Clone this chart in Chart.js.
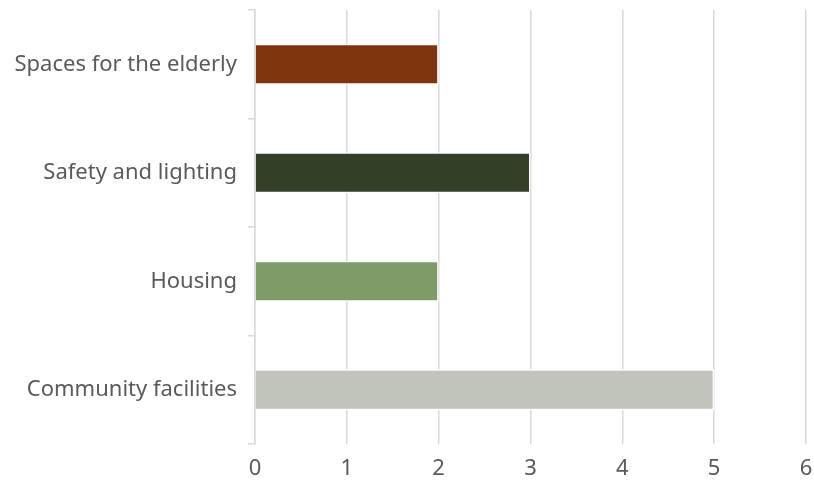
<!DOCTYPE html>
<html>
<head>
<meta charset="utf-8">
<script src="https://cdn.jsdelivr.net/npm/chart.js@4"></script>
<style>
  html, body { margin: 0; padding: 0; background: #fff; }
  #wrap { width: 814px; height: 480px; }
</style>
</head>
<body>
<div id="wrap"><canvas id="priorities"></canvas></div>
<script>
const categories = ['Spaces for the elderly', 'Safety and lighting', 'Housing', 'Community facilities'];
const counts = [2, 3, 2, 5];
const barColors = ['#7f3410', '#333f28', '#7f9b6a', '#c1c4bb'];
const xTicks = [0, 1, 2, 3, 4, 5, 6];

const priorities = document.getElementById('priorities');
const lineColor = '#d9d9d9';
const labelFont = { family: 'Noto Sans', size: 22 };

new Chart(priorities, {
    type: 'bar',
    data: {
        labels: categories,
        datasets: [{
            label: 'Responses',
            data: counts,
            backgroundColor: barColors,
            borderColor: '#ffffff',
            borderWidth: 1.5,
            categoryPercentage: 1,
            barPercentage: 0.38
        }]
    },
    options: {
        indexAxis: 'y',
        responsive: true,
        maintainAspectRatio: false,
        animation: false,
        layout: { padding: { top: 10, right: 8, left: 0, bottom: 0 } },
        plugins: {
            legend: { display: false },
            tooltip: { enabled: false }
        },
        scales: {
            x: {
                min: xTicks[0],
                max: xTicks[xTicks.length - 1],
                afterBuildTicks: scale => {
                    scale.ticks = xTicks.map(v => ({ value: v }));
                },
                afterFit: scale => {
                    scale.height = 36;
                    scale.paddingLeft = 0;
                    scale.paddingRight = 0;
                },
                border: { display: false },
                grid: { color: lineColor, lineWidth: 1.5, drawTicks: false },
                ticks: {
                    padding: 12,
                    color: '#5a5a5a',
                    font: labelFont
                }
            },
            y: {
                afterFit: scale => {
                    scale.width = 255;
                    scale.paddingTop = 0;
                    scale.paddingBottom = 0;
                },
                border: { display: true, color: lineColor, width: 1.5 },
                grid: { drawOnChartArea: false, drawTicks: true, tickLength: 7, color: lineColor, lineWidth: 1.5 },
                ticks: {
                    padding: 11,
                    color: '#5a5a5a',
                    font: labelFont
                }
            }
        }
    }
});
</script>
</body>
</html>
